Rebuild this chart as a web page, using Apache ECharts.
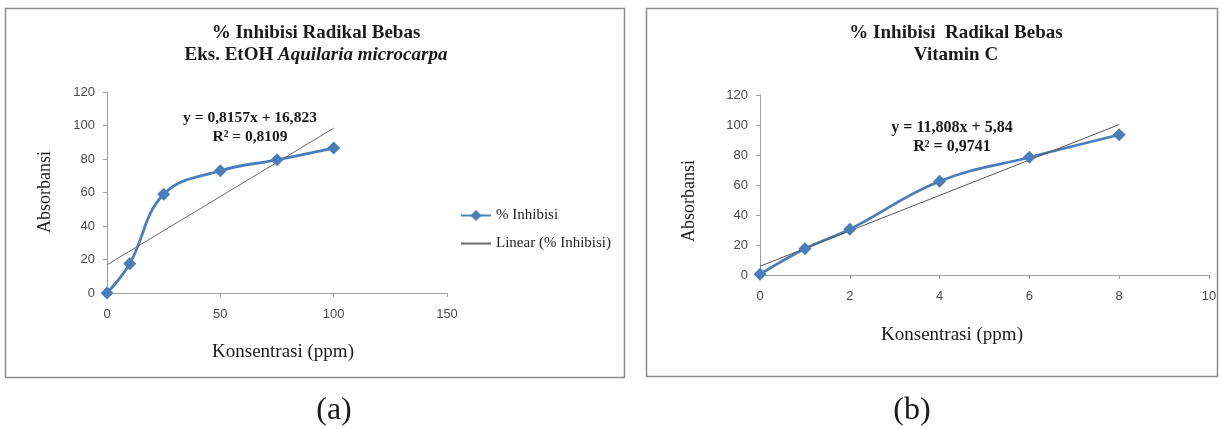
<!DOCTYPE html>
<html>
<head>
<meta charset="utf-8">
<script src="https://cdn.jsdelivr.net/npm/echarts@6/dist/echarts.min.js"></script>
<style>
html,body{margin:0;padding:0;background:#fff;}
#c{width:1222px;height:429px;}
</style>
</head>
<body>
<div id="c"></div>
<script>
// ---- data ----
var concA = [0, 10, 25, 50, 75, 100];
var inhibA = [0, 17.5, 59, 73, 79.5, 86.5];
var trendA = [[0, 16.823], [100, 98.393]];
var concB = [0, 1, 2, 4, 6, 8];
var inhibB = [0.5, 17.5, 30.5, 62.5, 78.5, 93.5];
var trendB = [[0, 5.84], [8, 100.30]];
var ticksY = [0, 20, 40, 60, 80, 100, 120];
var eqA = ['y = 0,8157x + 16,823', 'R\u00b2 = 0,8109'];
var eqB = ['y = 11,808x + 5,84', 'R\u00b2 = 0,9741'];

function pairs(xs, ys) { return xs.map(function (x, i) { return [x, ys[i]]; }); }

var serif = 'Liberation Serif';
var blue = '#4a7ebb';
function ax(extra, margin) {
  return Object.assign({
    type: 'value',
    splitLine: { show: false },
    axisLine: { show: true, lineStyle: { color: '#a0a0a0', width: 1 } },
    axisTick: { show: true, length: 4, lineStyle: { color: '#a0a0a0' } },
    axisLabel: { color: '#4a4a4a', fontFamily: 'Liberation Sans', fontSize: 13, margin: margin }
  }, extra);
}

var chart = echarts.init(document.getElementById('c'), null, { renderer: 'canvas' });
chart.setOption({
  animation: false,
  backgroundColor: '#fff',
  grid: [
    { left: 107, top: 92, width: 340, height: 201 },
    { left: 760, top: 95, width: 449, height: 180 }
  ],
  xAxis: [
    ax({ gridIndex: 0, min: 0, max: 150, interval: 50 }, 15),
    ax({ gridIndex: 1, min: 0, max: 10, interval: 2 }, 15)
  ],
  yAxis: [
    ax({ gridIndex: 0, min: ticksY[0], max: ticksY[ticksY.length - 1], interval: 20 }, 12),
    ax({ gridIndex: 1, min: ticksY[0], max: ticksY[ticksY.length - 1], interval: 20 }, 12)
  ],
  legend: {
    data: [
      { name: '% Inhibisi' },
      { name: 'Linear (% Inhibisi)', itemStyle: { opacity: 0 } }
    ],
    orient: 'vertical',
    left: 455,
    top: 203,
    itemWidth: 30,
    itemHeight: 14,
    itemGap: 13,
    selectedMode: false,
    textStyle: { fontFamily: serif, fontSize: 15, color: '#222' }
  },
  series: [
    {
      name: '% Inhibisi', type: 'line', xAxisIndex: 0, yAxisIndex: 0,
      data: pairs(concA, inhibA), smooth: 0.4,
      symbol: 'diamond', symbolSize: 13, showAllSymbol: true,
      lineStyle: { color: blue, width: 2.8 }, itemStyle: { color: blue }
    },
    {
      name: 'Linear (% Inhibisi)', type: 'line', xAxisIndex: 0, yAxisIndex: 0,
      data: trendA, symbol: 'none',
      lineStyle: { color: '#6a6a6a', width: 1 }, itemStyle: { color: '#6a6a6a' }
    },
    {
      name: 'Vitamin C', type: 'line', xAxisIndex: 1, yAxisIndex: 1,
      data: pairs(concB, inhibB), smooth: 0.4,
      symbol: 'diamond', symbolSize: 13, showAllSymbol: true,
      lineStyle: { color: blue, width: 2.8 }, itemStyle: { color: blue }
    },
    {
      name: 'Linear (Vitamin C)', type: 'line', xAxisIndex: 1, yAxisIndex: 1,
      data: trendB, symbol: 'none',
      lineStyle: { color: '#555', width: 1 }, itemStyle: { color: '#555' }
    }
  ],
  graphic: [
    { type: 'rect', shape: { x: 5.5, y: 8.5, width: 619, height: 369 }, style: { fill: 'none', stroke: '#8c8c8c', lineWidth: 1.5 }, z: -1 },
    { type: 'rect', shape: { x: 646.5, y: 8.5, width: 571, height: 368 }, style: { fill: 'none', stroke: '#8c8c8c', lineWidth: 1.5 }, z: -1 },
    // panel a title
    { type: 'text', x: 316, y: 33, style: { text: '% Inhibisi Radikal Bebas', font: 'bold 19px "Liberation Serif"', fill: '#1a1a1a', align: 'center', verticalAlign: 'middle' } },
    { type: 'text', x: 316, y: 55, style: {
        text: '{b|Eks. EtOH }{i|Aquilaria microcarpa}', align: 'center', verticalAlign: 'middle',
        rich: { b: { font: 'bold 19px "Liberation Serif"', fill: '#1a1a1a' }, i: { font: 'italic bold 19px "Liberation Serif"', fill: '#1a1a1a' } } } },
    // panel b title
    { type: 'text', x: 956, y: 33, style: { text: '% Inhibisi  Radikal Bebas', font: 'bold 19px "Liberation Serif"', fill: '#1a1a1a', align: 'center', verticalAlign: 'middle' } },
    { type: 'text', x: 956, y: 55, style: { text: 'Vitamin C', font: 'bold 19px "Liberation Serif"', fill: '#1a1a1a', align: 'center', verticalAlign: 'middle' } },
    // equations
    { type: 'text', x: 250, y: 118, style: { text: eqA[0], font: 'bold 15.5px "Liberation Serif"', fill: '#1a1a1a', align: 'center', verticalAlign: 'middle' } },
    { type: 'text', x: 250, y: 137, style: { text: eqA[1], font: 'bold 15.5px "Liberation Serif"', fill: '#1a1a1a', align: 'center', verticalAlign: 'middle' } },
    { type: 'text', x: 952, y: 128, style: { text: eqB[0], font: 'bold 16px "Liberation Serif"', fill: '#1a1a1a', align: 'center', verticalAlign: 'middle' } },
    { type: 'text', x: 952, y: 147, style: { text: eqB[1], font: 'bold 16px "Liberation Serif"', fill: '#1a1a1a', align: 'center', verticalAlign: 'middle' } },
    // axis titles
    { type: 'text', x: 283, y: 352, style: { text: 'Konsentrasi (ppm)', font: '19px "Liberation Serif"', fill: '#1a1a1a', align: 'center', verticalAlign: 'middle' } },
    { type: 'text', x: 952, y: 335, style: { text: 'Konsentrasi (ppm)', font: '19px "Liberation Serif"', fill: '#1a1a1a', align: 'center', verticalAlign: 'middle' } },
    { type: 'text', x: 45, y: 192, rotation: Math.PI / 2, style: { text: 'Absorbansi', font: '18px "Liberation Serif"', fill: '#1a1a1a', align: 'center', verticalAlign: 'middle' } },
    { type: 'text', x: 689, y: 201, rotation: Math.PI / 2, style: { text: 'Absorbansi', font: '18px "Liberation Serif"', fill: '#1a1a1a', align: 'center', verticalAlign: 'middle' } },
    // panel labels
    { type: 'text', x: 334, y: 411, style: { text: '(a)', font: '32px "Liberation Serif"', fill: '#1a1a1a', align: 'center', verticalAlign: 'middle' } },
    { type: 'text', x: 912, y: 411, style: { text: '(b)', font: '32px "Liberation Serif"', fill: '#1a1a1a', align: 'center', verticalAlign: 'middle' } }
  ]
});
</script>
</body>
</html>
